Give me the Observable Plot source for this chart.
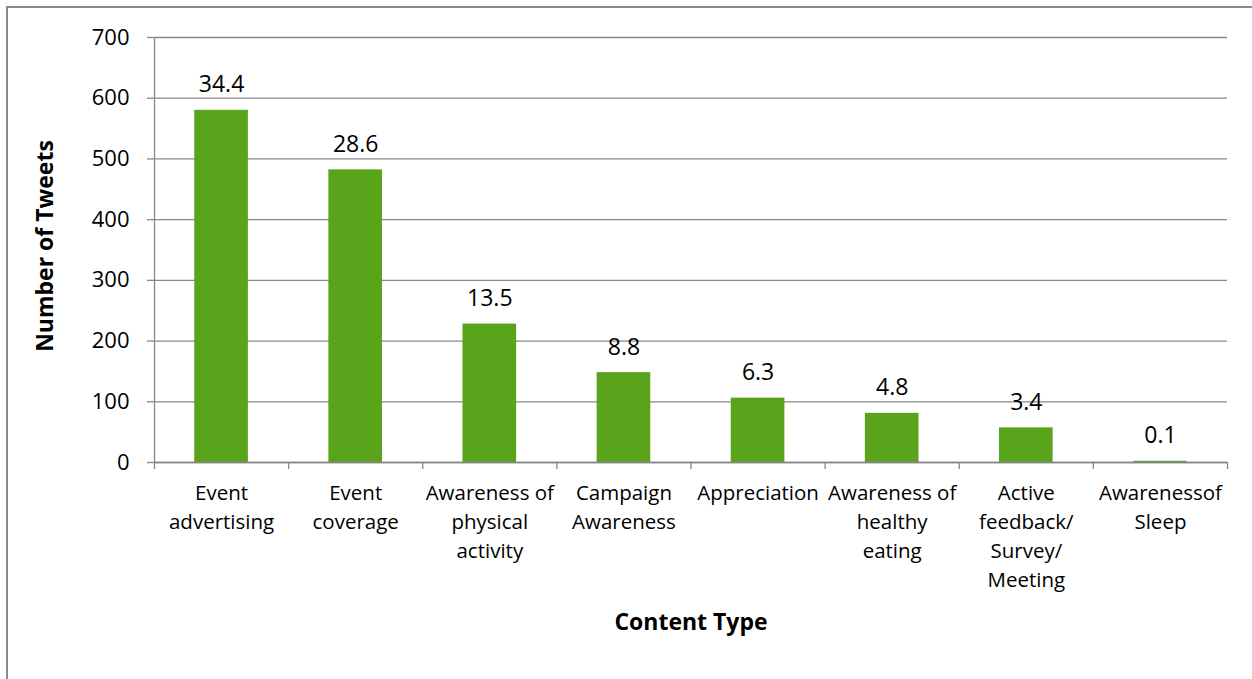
<!DOCTYPE html>
<html>
<head>
<meta charset="utf-8">
<script src="https://cdn.jsdelivr.net/npm/d3@7"></script>
<script src="https://cdn.jsdelivr.net/npm/@observablehq/plot@0.6"></script>
<style>
  html, body { margin: 0; padding: 0; background: #fff; }
  #wrap { position: relative; width: 1252px; height: 679px; overflow: hidden; }
  #frame { position: absolute; left: 6px; top: 6px; width: 1300px; height: 700px;
           border-left: 2px solid #8a8a8a; border-top: 2px solid #8a8a8a; box-sizing: border-box; }
  #chart { position: absolute; left: 0; top: 0; }
</style>
</head>
<body>
<div id="wrap"><div id="frame"></div><div id="chart"></div></div>
<script>
const categories = [
  "Event\nadvertising",
  "Event\ncoverage",
  "Awareness of\nphysical\nactivity",
  "Campaign\nAwareness",
  "Appreciation",
  "Awareness of\nhealthy\neating",
  "Active\nfeedback/\nSurvey/\nMeeting",
  "Awarenessof\nSleep"
];
const tweetCounts = [580, 482, 228, 148, 106, 81, 57, 2];
const percentLabels = ["34.4", "28.6", "13.5", "8.8", "6.3", "4.8", "3.4", "0.1"];
const yTicks = [0, 100, 200, 300, 400, 500, 600, 700];

const data = categories.map((c, i) => ({index: i, category: c, count: tweetCounts[i], pct: percentLabels[i]}));
const boundaries = d3.range(0, categories.length + 1);

const font = "'Open Sans', sans-serif";
const gray = "#878787";
const green = "#59a41b";

const chart = Plot.plot({
  width: 1252,
  height: 679,
  marginLeft: 154,
  marginRight: 25,
  marginTop: 37,
  marginBottom: 217,
  style: {fontFamily: font, background: "transparent", color: "#000"},
  x: {type: "linear", domain: [0, categories.length], axis: null},
  y: {domain: [0, 700], axis: null},
  marks: [
    Plot.gridY(yTicks, {stroke: gray, strokeOpacity: 1, strokeWidth: 1.3}),
    Plot.axisY({ticks: yTicks, tickSize: 7, tickPadding: 18, stroke: gray, strokeOpacity: 1, strokeWidth: 1.3, fontSize: 22, label: null, tickFormat: d => String(d)}),
    Plot.ruleX([0], {stroke: gray, strokeWidth: 1.3}),
    Plot.rectY(data, {x1: d => d.index + 0.3, x2: d => d.index + 0.7, y: "count", fill: green}),
    Plot.ruleY([0], {stroke: gray, strokeWidth: 1.3}),
    Plot.axisX({ticks: boundaries, tickSize: 7, stroke: gray, strokeOpacity: 1, strokeWidth: 1.3, tickFormat: () => "", label: null}),
    Plot.text(data, {x: d => d.index + 0.5, y: "count", text: "pct", lineAnchor: "bottom", dy: -18, fontSize: 23, fill: "#000"}),
    Plot.text(data, {x: d => d.index + 0.5, frameAnchor: "bottom", text: "category", lineAnchor: "top", dy: 17, fontSize: 20.5, lineHeight: 1.415, fill: "#000"}),
    Plot.text(["Content Type"], {frameAnchor: "bottom", dy: 167, fontSize: 23, fontWeight: "bold", fill: "#000"}),
    Plot.text(["Number of Tweets"], {frameAnchor: "left", textAnchor: "middle", dx: -108.5, dy: -4, rotate: -90, fontSize: 23, fontWeight: "bold", fill: "#000"})
  ]
});
document.getElementById("chart").appendChild(chart);
</script>
</body>
</html>
